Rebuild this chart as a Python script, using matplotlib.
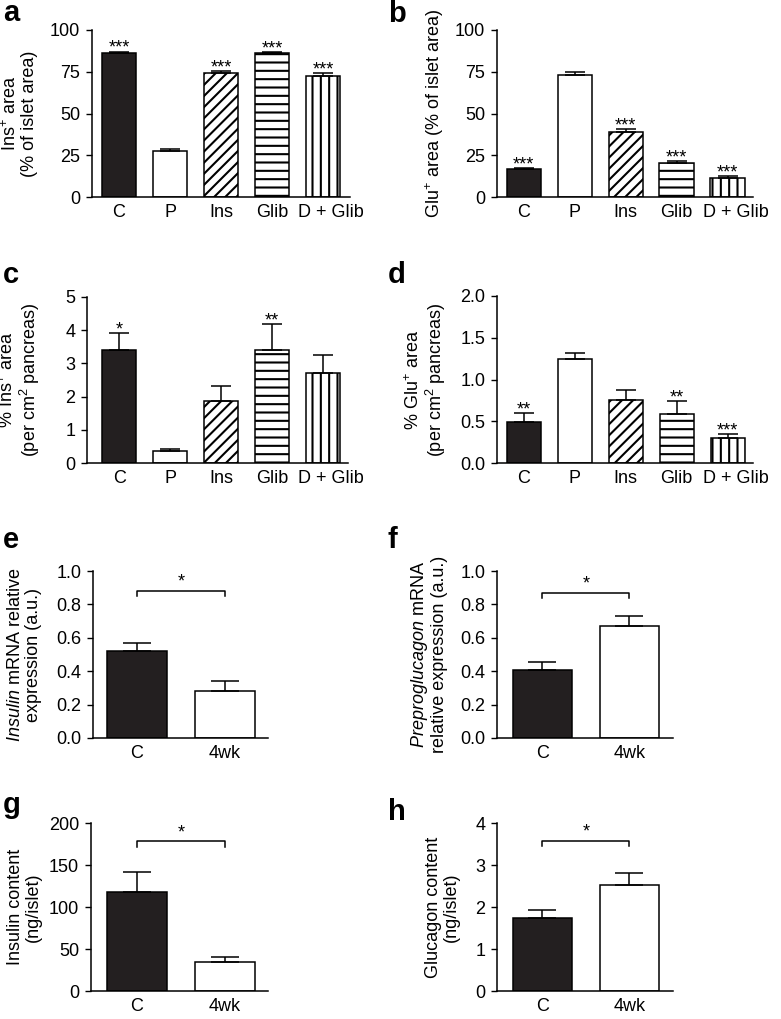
import numpy as np
import matplotlib
matplotlib.use("Agg")
import matplotlib.pyplot as plt
from matplotlib.ticker import FormatStrFormatter
from matplotlib.transforms import ScaledTranslation

plt.rcParams["font.family"] = ["Liberation Sans", "DejaVu Sans"]
plt.rcParams["mathtext.fontset"] = "custom"
plt.rcParams["mathtext.rm"] = "Liberation Sans"
plt.rcParams["mathtext.it"] = "Liberation Sans:italic"
plt.rcParams["hatch.linewidth"] = 1.5

# group names
groups5 = ["C", "P", "Ins", "Glib", "D + Glib"]
groups2 = ["C", "4wk"]

# a - Ins+ area (% of islet area)
ins_islet = [86.5, 27.5, 74.0, 86.0, 72.5]
ins_islet_err = [0.6, 1.5, 1.5, 0.8, 1.8]
ins_islet_sig = ["***", "", "***", "***", "***"]

# b - Glu+ area (% of islet area)
glu_islet = [16.5, 73.0, 39.0, 20.5, 11.5]
glu_islet_err = [1.0, 2.0, 1.5, 0.8, 1.0]
glu_islet_sig = ["***", "", "***", "***", "***"]

# c - % Ins+ area per cm2 pancreas
ins_panc = [3.4, 0.37, 1.87, 3.4, 2.72]
ins_panc_err = [0.52, 0.05, 0.45, 0.78, 0.53]
ins_panc_sig = ["*", "", "", "**", ""]

# d - % Glu+ area per cm2 pancreas
glu_panc = [0.49, 1.25, 0.75, 0.59, 0.30]
glu_panc_err = [0.11, 0.07, 0.13, 0.15, 0.05]
glu_panc_sig = ["**", "", "", "**", "***"]

# e - Insulin mRNA
ins_mrna = [0.52, 0.28]
ins_mrna_err = [0.05, 0.06]

# f - Preproglucagon mRNA
gcg_mrna = [0.405, 0.67]
gcg_mrna_err = [0.05, 0.06]

# g - insulin content
ins_content = [118, 34]
ins_content_err = [24, 6]

# h - glucagon content
gcg_content = [1.73, 2.52]
gcg_content_err = [0.21, 0.28]

# significance brackets for the two-group panels (height, drop)
bracket_e = (0.88, 0.03)
bracket_f = (0.87, 0.03)
bracket_g = (178, 6)
bracket_h = (3.58, 0.12)

fills5 = ["#231f20", "white", "white", "white", "white"]
hatches5 = [None, None, "///", "--", "||"]
fills2 = ["#231f20", "white"]
hatches2 = [None, None]

W, H = 781, 1019
fig = plt.figure(figsize=(W / 100, H / 100), dpi=100)


def px_box(l, t, r, b):
    return [l / W, 1 - b / H, (r - l) / W, (b - t) / H]


def bar_panel(box, values, errs, labels, fills, hatches, xlim, width, capsize,
              yticks, fmt, ylabel, label_right, sig=None):
    ax = fig.add_axes(px_box(*box))
    x = np.arange(len(values))
    bars = ax.bar(x, values, width, color=fills, edgecolor="black", linewidth=1.1, zorder=2)
    for patch, h in zip(bars, hatches):
        if h:
            patch.set_hatch(h)
    ax.errorbar(x, values, yerr=[np.zeros(len(values)), errs], fmt="none", ecolor="black",
                elinewidth=1.1, capsize=capsize, capthick=1.1, zorder=3)
    if sig:
        for xi, v, e, s in zip(x, values, errs, sig):
            if s:
                ax.annotate(s, (xi, v + e), xytext=(0, -1), textcoords="offset points",
                            ha="center", va="baseline", fontsize=13)
    ax.set_xlim(*xlim)
    ax.set_ylim(yticks[0], yticks[-1])
    ax.set_yticks(yticks)
    ax.yaxis.set_major_formatter(FormatStrFormatter(fmt))
    ax.set_xticks(x)
    ax.set_xticklabels(labels)
    ax.tick_params(axis="y", direction="out", length=4, width=1, labelsize=13, pad=4.5)
    ax.tick_params(axis="x", length=0, labelsize=13, pad=5)
    if len(labels) == 5:
        # the long "D + Glib" label sits a bit right of its bar
        lab = ax.get_xticklabels()[-1]
        lab.set_transform(lab.get_transform() + ScaledTranslation(0.08, 0, fig.dpi_scale_trans))
    for s in ["top", "right"]:
        ax.spines[s].set_visible(False)
    for s in ["left", "bottom"]:
        ax.spines[s].set_linewidth(1.1)
    ax.set_ylabel(ylabel, fontsize=13, linespacing=1.05)
    ax.yaxis.set_label_coords((label_right - box[0]) / (box[2] - box[0]), 0.5)
    return ax


def bracket(ax, y, drop, s="*"):
    ax.plot([0, 0, 1, 1], [y - drop, y, y, y - drop], color="black", lw=1.1, zorder=3)
    ax.annotate(s, (0.5, y), xytext=(0, 3), textcoords="offset points",
                ha="center", va="baseline", fontsize=13)


bar_panel((92, 30, 350, 197), ins_islet, ins_islet_err, groups5, fills5, hatches5,
          (-0.53, 4.53), 0.667, 7, [0, 25, 50, 75, 100], "%d",
          "Ins$^{+}$ area\n(% of islet area)", 38, ins_islet_sig)
bar_panel((497, 30, 753, 197), glu_islet, glu_islet_err, groups5, fills5, hatches5,
          (-0.52, 4.5), 0.667, 7, [0, 25, 50, 75, 100], "%d",
          "Glu$^{+}$ area (% of islet area)", 446, glu_islet_sig)
bar_panel((87, 297, 348, 463), ins_panc, ins_panc_err, groups5, fills5, hatches5,
          (-0.63, 4.49), 0.667, 7, [0, 1, 2, 3, 4, 5], "%d",
          "% Ins$^{+}$ area\n(per cm$^{2}$ pancreas)", 42, ins_panc_sig)
bar_panel((497, 296, 753, 463), glu_panc, glu_panc_err, groups5, fills5, hatches5,
          (-0.53, 4.5), 0.667, 7, [0, 0.5, 1.0, 1.5, 2.0], "%.1f",
          "% Glu$^{+}$ area\n(per cm$^{2}$ pancreas)", 448, glu_panc_sig)

ax_e = bar_panel((93, 571, 268, 738), ins_mrna, ins_mrna_err, groups2, fills2, hatches2,
                 (-0.5, 1.49), 0.68, 10, [0, 0.2, 0.4, 0.6, 0.8, 1.0], "%.1f",
                 "$\\mathit{Insulin}$ mRNA relative\nexpression (a.u.)", 42)
bracket(ax_e, *bracket_e)
ax_f = bar_panel((497, 571, 673, 738), gcg_mrna, gcg_mrna_err, groups2, fills2, hatches2,
                 (-0.52, 1.5), 0.68, 10, [0, 0.2, 0.4, 0.6, 0.8, 1.0], "%.1f",
                 "$\\mathit{Preproglucagon}$ mRNA\nrelative expression (a.u.)", 448)
bracket(ax_f, *bracket_f)
ax_g = bar_panel((91, 823, 268, 991), ins_content, ins_content_err, groups2, fills2, hatches2,
                 (-0.52, 1.49), 0.68, 10, [0, 50, 100, 150, 200], "%d",
                 "Insulin content\n(ng/islet)", 42)
bracket(ax_g, *bracket_g)
ax_h = bar_panel((497, 823, 673, 991), gcg_content, gcg_content_err, groups2, fills2, hatches2,
                 (-0.52, 1.5), 0.68, 10, [0, 1, 2, 3, 4], "%d",
                 "Glucagon content\n(ng/islet)", 460)
bracket(ax_h, *bracket_h)

# panel letters
for letter, px, py in [("a", 3, 21), ("b", 388, 22), ("c", 3, 283), ("d", 388, 283),
                       ("e", 3, 548), ("f", 388, 548), ("g", 3, 813), ("h", 388, 820)]:
    fig.text(px / W, 1 - py / H, letter, fontsize=21, fontweight="bold", va="baseline")

fig.savefig("out.png", dpi=100)
